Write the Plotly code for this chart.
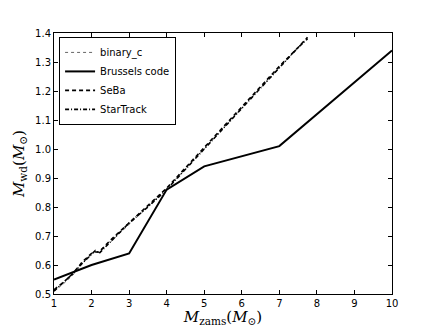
import plotly.graph_objects as go

# initial (ZAMS) mass vs white dwarf mass
mass_brussels = [1, 2, 3, 4, 5, 7, 10]
mwd_brussels = [0.55, 0.60, 0.64, 0.86, 0.94, 1.01, 1.34]

mass_codes = [1.0, 1.25, 1.5, 1.75, 2.0, 2.1, 2.2, 2.5, 3.0, 3.5, 4.0, 4.5, 5.0, 5.5, 6.0, 6.5, 7.0, 7.5, 7.75]
mwd_binary_c = [0.51, 0.535, 0.565, 0.605, 0.635, 0.648, 0.642, 0.68, 0.74, 0.80, 0.865, 0.93, 1.00, 1.07, 1.14, 1.21, 1.28, 1.35, 1.385]
mwd_seba = [0.515, 0.54, 0.57, 0.61, 0.64, 0.645, 0.645, 0.685, 0.745, 0.805, 0.865, 0.935, 1.005, 1.075, 1.145, 1.215, 1.285, 1.35, 1.385]
mwd_startrack = [0.51, 0.54, 0.57, 0.605, 0.635, 0.65, 0.64, 0.68, 0.745, 0.80, 0.86, 0.93, 1.00, 1.07, 1.14, 1.21, 1.28, 1.35, 1.38]

x_ticks = [1, 2, 3, 4, 5, 6, 7, 8, 9, 10]
y_ticks = [0.5, 0.6, 0.7, 0.8, 0.9, 1.0, 1.1, 1.2, 1.3, 1.4]

fig = go.Figure()

fig.add_trace(go.Scatter(x=mass_codes, y=mwd_binary_c, mode="lines", name="binary_c",
                         line=dict(color="#666666", width=1, dash="dot")))
fig.add_trace(go.Scatter(x=mass_brussels, y=mwd_brussels, mode="lines", name="Brussels code",
                         line=dict(color="black", width=2)))
fig.add_trace(go.Scatter(x=mass_codes, y=mwd_seba, mode="lines", name="SeBa",
                         line=dict(color="black", width=1.6, dash="4px,3px")))
fig.add_trace(go.Scatter(x=mass_codes, y=mwd_startrack, mode="lines", name="StarTrack",
                         line=dict(color="black", width=1.6, dash="4px,2px,1px,2px")))

axis_common = dict(
    showline=True, linecolor="black", linewidth=1, mirror="allticks",
    ticks="inside", ticklen=4, tickcolor="black", showgrid=False, zeroline=False,
    automargin=False,
    tickfont=dict(family="DejaVu Sans", size=10, color="black"),
)

fig.update_xaxes(range=[1, 10], tickvals=x_ticks, ticktext=[str(v) for v in x_ticks],
                 title=dict(text="<i>M</i><sub>zams</sub>(<i>M</i><sub>⊙</sub>)",
                            font=dict(family="DejaVu Serif", size=15, color="black"),
                            standoff=2),
                 **axis_common)
fig.update_yaxes(range=[0.5, 1.4], tickvals=y_ticks, ticktext=[f"{v:.1f}" for v in y_ticks],
                 title=dict(text="<i>M</i><sub>wd</sub>(<i>M</i><sub>⊙</sub>)",
                            font=dict(family="DejaVu Serif", size=15, color="black"),
                            standoff=6),
                 **axis_common)

# the page body adds 8px around the figure, so size and margins account for that
fig.update_layout(
    width=428, height=319,
    margin=dict(l=46, r=44, t=25, b=33),
    plot_bgcolor="white", paper_bgcolor="white",
    legend=dict(x=0.015, y=0.985, xanchor="left", yanchor="top",
                bordercolor="black", borderwidth=1, bgcolor="white",
                font=dict(family="DejaVu Sans", size=10, color="black"),
                tracegroupgap=0, itemwidth=30),
)

fig.write_html("out.html")
